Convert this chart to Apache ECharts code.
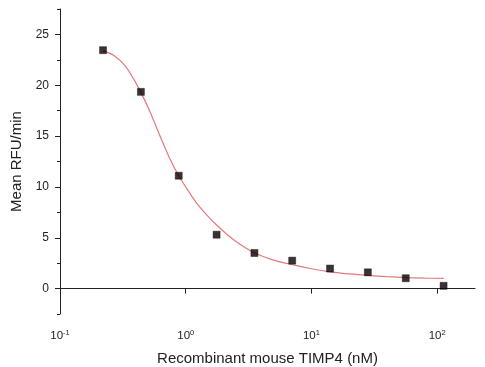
<!DOCTYPE html>
<html><head><meta charset="utf-8">
<script src="https://cdn.jsdelivr.net/npm/echarts@6/dist/echarts.min.js"></script>
<style>html,body{margin:0;padding:0;background:#fff}#c{width:485px;height:367px}</style>
</head><body><div id="c"></div>
<script>
// Measured data points (concentration nM, mean RFU/min)
const concentrations = [0.22, 0.44, 0.88, 1.76, 3.52, 7.03, 14.06, 28.1, 56.25, 112.5];
const rfuValues = [23.45, 19.35, 11.1, 5.3, 3.5, 2.75, 1.97, 1.6, 1.02, 0.27];
// Fitted curve
const curveX = [0.22, 0.27, 0.33, 0.39, 0.44, 0.52, 0.62, 0.74, 0.88, 1.05, 1.24, 1.48, 1.76, 2.1, 2.5, 3.0, 3.52, 5, 7.03, 10, 14.06, 20, 28.1, 40, 56.25, 80, 112.5];
const curveY = [23.4, 22.9, 21.9, 20.5, 19.3, 17.4, 15.1, 12.9, 11.1, 9.6, 8.3, 7.2, 6.25, 5.4, 4.65, 4.0, 3.5, 2.8, 2.35, 1.95, 1.65, 1.45, 1.3, 1.17, 1.08, 1.03, 1.0];
// Tick labels
const xTickValues = [0.1, 1, 10, 100];
const yMajorTicks = [0, 5, 10, 15, 20, 25];

const font = 'Liberation Sans, Arial, sans-serif';
const chart = echarts.init(document.getElementById('c'), null, {renderer: 'canvas'});
chart.setOption({
  animation: false,
  backgroundColor: '#fff',
  grid: {left: 60, right: 10, top: 9, bottom: 53, containLabel: false, outerBoundsMode: 'none'},
  xAxis: {
    type: 'log', logBase: 10, min: 0.1, max: 200,
    name: 'Recombinant mouse TIMP4 (nM)', nameLocation: 'middle', nameGap: 37,
    nameTextStyle: {fontFamily: font, fontSize: 15, color: '#222'},
    axisLine: {lineStyle: {color: '#222', width: 1}},
    axisTick: {show: true, customValues: xTickValues, length: 5, lineStyle: {color: '#222'}},
    axisLabel: {
      customValues: xTickValues, margin: 15,
      formatter: v => '{b|10}{s|' + Math.round(Math.log10(v)) + '}',
      rich: {
        b: {fontFamily: font, fontSize: 11.5, color: '#222'},
        s: {fontFamily: font, fontSize: 7.5, color: '#222', verticalAlign: 'top', padding: [0, 0, 5, 0]}
      }
    },
    splitLine: {show: false}
  },
  yAxis: [{
    type: 'value', min: -2.5, max: 27.5, interval: 2.5,
    name: 'Mean RFU/min', nameLocation: 'middle', nameGap: 31,
    nameTextStyle: {fontFamily: font, fontSize: 15, color: '#222'},
    axisLine: {show: true, lineStyle: {color: '#222', width: 1}},
    axisTick: {show: true, customValues: yMajorTicks, length: 5, lineStyle: {color: '#222'}},
    axisLabel: {customValues: yMajorTicks, margin: 11, fontFamily: font, fontSize: 12, color: '#222'},
    splitLine: {show: false}
  }, {
    type: 'value', min: -2.5, max: 27.5, interval: 2.5, position: 'left',
    axisLine: {show: false},
    axisTick: {show: true, length: 3, lineStyle: {color: '#222'}},
    axisLabel: {show: false},
    splitLine: {show: false}
  }],
  series: [{
    type: 'line', smooth: 0.3, symbol: 'none',
    data: curveX.map((x, i) => [x, curveY[i]]),
    lineStyle: {color: '#e47a7c', width: 1.2}, z: 2
  }, {
    type: 'scatter', symbol: 'rect', symbolSize: 7,
    data: concentrations.map((x, i) => [x, rfuValues[i]]),
    itemStyle: {color: '#0a0000', borderColor: '#000', borderWidth: 0.5}, z: 3
  }]
});
</script></body></html>
